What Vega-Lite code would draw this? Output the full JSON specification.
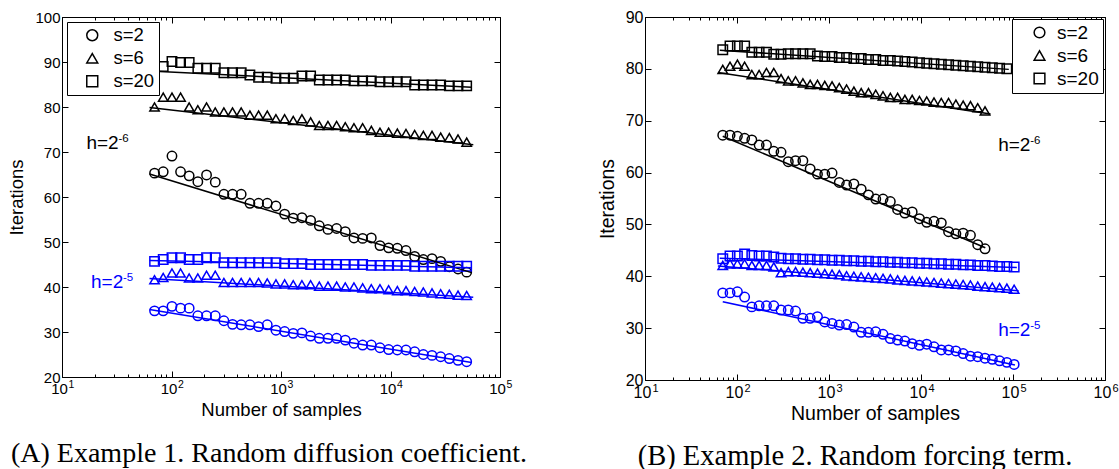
{
"$schema": "https://vega.github.io/schema/vega-lite/v6.json",
"padding": {"left": 7, "top": 8, "right": 0, "bottom": 0},
"background": "white",
"config": {
  "font": "Liberation Sans",
  "view": {"stroke": "black", "strokeWidth": 1},
  "axis": {"domain": false, "grid": false, "tickColor": "black", "labelColor": "black", "titleColor": "black", "titleFontWeight": "normal", "labelFont": "Liberation Sans", "titleFont": "Liberation Sans", "labelFlush": false, "labelOverlap": false, "labelBound": false, "tickWidth": 1},
  "title": {"font": "Liberation Serif", "fontWeight": "normal", "color": "black", "fontSize": 28},
  "legend": {"labelFont": "Liberation Sans", "labelColor": "black"}
},
"datasets": {
"pts": [
{"p":"A","h":"h6","s":"s=2","n":70,"v":65.3},{"p":"A","h":"h6","s":"s=2","n":84,"v":65.6},{"p":"A","h":"h6","s":"s=2","n":101,"v":69.1},{"p":"A","h":"h6","s":"s=2","n":121,"v":65.6},{"p":"A","h":"h6","s":"s=2","n":145,"v":64.7},{"p":"A","h":"h6","s":"s=2","n":174,"v":63.4},{"p":"A","h":"h6","s":"s=2","n":209,"v":64.9},{"p":"A","h":"h6","s":"s=2","n":251,"v":63.3},{"p":"A","h":"h6","s":"s=2","n":301,"v":60.6},{"p":"A","h":"h6","s":"s=2","n":361,"v":60.6},{"p":"A","h":"h6","s":"s=2","n":433,"v":60.6},{"p":"A","h":"h6","s":"s=2","n":520,"v":58.6},{"p":"A","h":"h6","s":"s=2","n":624,"v":58.6},{"p":"A","h":"h6","s":"s=2","n":749,"v":58.6},{"p":"A","h":"h6","s":"s=2","n":899,"v":58.0},{"p":"A","h":"h6","s":"s=2","n":1079,"v":56.2},{"p":"A","h":"h6","s":"s=2","n":1294,"v":55.3},{"p":"A","h":"h6","s":"s=2","n":1553,"v":55.4},{"p":"A","h":"h6","s":"s=2","n":1864,"v":54.8},{"p":"A","h":"h6","s":"s=2","n":2237,"v":53.6},{"p":"A","h":"h6","s":"s=2","n":2684,"v":52.8},{"p":"A","h":"h6","s":"s=2","n":3221,"v":53.0},{"p":"A","h":"h6","s":"s=2","n":3865,"v":52.3},{"p":"A","h":"h6","s":"s=2","n":4638,"v":50.9},{"p":"A","h":"h6","s":"s=2","n":5566,"v":50.8},{"p":"A","h":"h6","s":"s=2","n":6679,"v":50.9},{"p":"A","h":"h6","s":"s=2","n":8015,"v":49.2},{"p":"A","h":"h6","s":"s=2","n":9618,"v":48.7},{"p":"A","h":"h6","s":"s=2","n":11541,"v":48.6},{"p":"A","h":"h6","s":"s=2","n":13850,"v":48.1},{"p":"A","h":"h6","s":"s=2","n":16620,"v":46.8},{"p":"A","h":"h6","s":"s=2","n":19944,"v":46.1},{"p":"A","h":"h6","s":"s=2","n":23932,"v":46.3},{"p":"A","h":"h6","s":"s=2","n":28719,"v":45.7},{"p":"A","h":"h6","s":"s=2","n":34462,"v":44.5},{"p":"A","h":"h6","s":"s=2","n":41355,"v":44.0},{"p":"A","h":"h6","s":"s=2","n":49626,"v":43.3},
{"p":"A","h":"h6","s":"s=6","n":70,"v":80.0},{"p":"A","h":"h6","s":"s=6","n":84,"v":82.2},{"p":"A","h":"h6","s":"s=6","n":101,"v":82.2},{"p":"A","h":"h6","s":"s=6","n":121,"v":82.2},{"p":"A","h":"h6","s":"s=6","n":145,"v":80.0},{"p":"A","h":"h6","s":"s=6","n":174,"v":79.4},{"p":"A","h":"h6","s":"s=6","n":209,"v":80.0},{"p":"A","h":"h6","s":"s=6","n":251,"v":78.9},{"p":"A","h":"h6","s":"s=6","n":301,"v":78.9},{"p":"A","h":"h6","s":"s=6","n":361,"v":78.9},{"p":"A","h":"h6","s":"s=6","n":433,"v":78.9},{"p":"A","h":"h6","s":"s=6","n":520,"v":78.2},{"p":"A","h":"h6","s":"s=6","n":624,"v":78.2},{"p":"A","h":"h6","s":"s=6","n":749,"v":78.2},{"p":"A","h":"h6","s":"s=6","n":899,"v":77.4},{"p":"A","h":"h6","s":"s=6","n":1079,"v":77.4},{"p":"A","h":"h6","s":"s=6","n":1294,"v":77.0},{"p":"A","h":"h6","s":"s=6","n":1553,"v":77.4},{"p":"A","h":"h6","s":"s=6","n":1864,"v":76.7},{"p":"A","h":"h6","s":"s=6","n":2237,"v":75.9},{"p":"A","h":"h6","s":"s=6","n":2684,"v":75.9},{"p":"A","h":"h6","s":"s=6","n":3221,"v":75.9},{"p":"A","h":"h6","s":"s=6","n":3865,"v":75.6},{"p":"A","h":"h6","s":"s=6","n":4638,"v":75.4},{"p":"A","h":"h6","s":"s=6","n":5566,"v":75.4},{"p":"A","h":"h6","s":"s=6","n":6679,"v":74.8},{"p":"A","h":"h6","s":"s=6","n":8015,"v":74.4},{"p":"A","h":"h6","s":"s=6","n":9618,"v":74.4},{"p":"A","h":"h6","s":"s=6","n":11541,"v":74.2},{"p":"A","h":"h6","s":"s=6","n":13850,"v":74.1},{"p":"A","h":"h6","s":"s=6","n":16620,"v":73.9},{"p":"A","h":"h6","s":"s=6","n":19944,"v":73.7},{"p":"A","h":"h6","s":"s=6","n":23932,"v":73.7},{"p":"A","h":"h6","s":"s=6","n":28719,"v":73.3},{"p":"A","h":"h6","s":"s=6","n":34462,"v":73.2},{"p":"A","h":"h6","s":"s=6","n":41355,"v":72.9},{"p":"A","h":"h6","s":"s=6","n":49626,"v":72.2},
{"p":"A","h":"h6","s":"s=20","n":70,"v":87.1},{"p":"A","h":"h6","s":"s=20","n":84,"v":89.0},{"p":"A","h":"h6","s":"s=20","n":101,"v":90.1},{"p":"A","h":"h6","s":"s=20","n":121,"v":89.9},{"p":"A","h":"h6","s":"s=20","n":145,"v":89.9},{"p":"A","h":"h6","s":"s=20","n":174,"v":88.6},{"p":"A","h":"h6","s":"s=20","n":209,"v":88.6},{"p":"A","h":"h6","s":"s=20","n":251,"v":88.6},{"p":"A","h":"h6","s":"s=20","n":301,"v":87.6},{"p":"A","h":"h6","s":"s=20","n":361,"v":87.6},{"p":"A","h":"h6","s":"s=20","n":433,"v":87.6},{"p":"A","h":"h6","s":"s=20","n":520,"v":87.1},{"p":"A","h":"h6","s":"s=20","n":624,"v":86.6},{"p":"A","h":"h6","s":"s=20","n":749,"v":86.6},{"p":"A","h":"h6","s":"s=20","n":899,"v":86.4},{"p":"A","h":"h6","s":"s=20","n":1079,"v":86.4},{"p":"A","h":"h6","s":"s=20","n":1294,"v":86.4},{"p":"A","h":"h6","s":"s=20","n":1553,"v":86.9},{"p":"A","h":"h6","s":"s=20","n":1864,"v":86.9},{"p":"A","h":"h6","s":"s=20","n":2237,"v":86.0},{"p":"A","h":"h6","s":"s=20","n":2684,"v":86.0},{"p":"A","h":"h6","s":"s=20","n":3221,"v":86.0},{"p":"A","h":"h6","s":"s=20","n":3865,"v":86.0},{"p":"A","h":"h6","s":"s=20","n":4638,"v":85.8},{"p":"A","h":"h6","s":"s=20","n":5566,"v":85.8},{"p":"A","h":"h6","s":"s=20","n":6679,"v":85.8},{"p":"A","h":"h6","s":"s=20","n":8015,"v":85.6},{"p":"A","h":"h6","s":"s=20","n":9618,"v":85.6},{"p":"A","h":"h6","s":"s=20","n":11541,"v":85.6},{"p":"A","h":"h6","s":"s=20","n":13850,"v":85.6},{"p":"A","h":"h6","s":"s=20","n":16620,"v":84.9},{"p":"A","h":"h6","s":"s=20","n":19944,"v":84.9},{"p":"A","h":"h6","s":"s=20","n":23932,"v":84.9},{"p":"A","h":"h6","s":"s=20","n":28719,"v":84.9},{"p":"A","h":"h6","s":"s=20","n":34462,"v":84.7},{"p":"A","h":"h6","s":"s=20","n":41355,"v":84.7},{"p":"A","h":"h6","s":"s=20","n":49626,"v":84.7},
{"p":"A","h":"h5","s":"s=20","n":70,"v":45.7},{"p":"A","h":"h5","s":"s=20","n":84,"v":46.1},{"p":"A","h":"h5","s":"s=20","n":101,"v":46.5},{"p":"A","h":"h5","s":"s=20","n":121,"v":46.5},{"p":"A","h":"h5","s":"s=20","n":145,"v":46.1},{"p":"A","h":"h5","s":"s=20","n":174,"v":46.1},{"p":"A","h":"h5","s":"s=20","n":209,"v":46.5},{"p":"A","h":"h5","s":"s=20","n":251,"v":46.5},{"p":"A","h":"h5","s":"s=20","n":301,"v":45.4},{"p":"A","h":"h5","s":"s=20","n":361,"v":45.4},{"p":"A","h":"h5","s":"s=20","n":433,"v":45.4},{"p":"A","h":"h5","s":"s=20","n":520,"v":45.4},{"p":"A","h":"h5","s":"s=20","n":624,"v":45.4},{"p":"A","h":"h5","s":"s=20","n":749,"v":45.4},{"p":"A","h":"h5","s":"s=20","n":899,"v":45.4},{"p":"A","h":"h5","s":"s=20","n":1079,"v":45.2},{"p":"A","h":"h5","s":"s=20","n":1294,"v":45.2},{"p":"A","h":"h5","s":"s=20","n":1553,"v":45.2},{"p":"A","h":"h5","s":"s=20","n":1864,"v":45.0},{"p":"A","h":"h5","s":"s=20","n":2237,"v":45.0},{"p":"A","h":"h5","s":"s=20","n":2684,"v":45.0},{"p":"A","h":"h5","s":"s=20","n":3221,"v":45.0},{"p":"A","h":"h5","s":"s=20","n":3865,"v":45.0},{"p":"A","h":"h5","s":"s=20","n":4638,"v":45.0},{"p":"A","h":"h5","s":"s=20","n":5566,"v":45.0},{"p":"A","h":"h5","s":"s=20","n":6679,"v":44.8},{"p":"A","h":"h5","s":"s=20","n":8015,"v":44.8},{"p":"A","h":"h5","s":"s=20","n":9618,"v":44.8},{"p":"A","h":"h5","s":"s=20","n":11541,"v":44.8},{"p":"A","h":"h5","s":"s=20","n":13850,"v":44.8},{"p":"A","h":"h5","s":"s=20","n":16620,"v":44.6},{"p":"A","h":"h5","s":"s=20","n":19944,"v":44.6},{"p":"A","h":"h5","s":"s=20","n":23932,"v":44.6},{"p":"A","h":"h5","s":"s=20","n":28719,"v":44.6},{"p":"A","h":"h5","s":"s=20","n":34462,"v":44.6},{"p":"A","h":"h5","s":"s=20","n":41355,"v":44.6},{"p":"A","h":"h5","s":"s=20","n":49626,"v":44.6},
{"p":"A","h":"h5","s":"s=6","n":70,"v":41.6},{"p":"A","h":"h5","s":"s=6","n":84,"v":42.1},{"p":"A","h":"h5","s":"s=6","n":101,"v":43.1},{"p":"A","h":"h5","s":"s=6","n":121,"v":43.1},{"p":"A","h":"h5","s":"s=6","n":145,"v":42.0},{"p":"A","h":"h5","s":"s=6","n":174,"v":42.0},{"p":"A","h":"h5","s":"s=6","n":209,"v":42.6},{"p":"A","h":"h5","s":"s=6","n":251,"v":42.6},{"p":"A","h":"h5","s":"s=6","n":301,"v":41.0},{"p":"A","h":"h5","s":"s=6","n":361,"v":41.0},{"p":"A","h":"h5","s":"s=6","n":433,"v":41.0},{"p":"A","h":"h5","s":"s=6","n":520,"v":41.0},{"p":"A","h":"h5","s":"s=6","n":624,"v":41.0},{"p":"A","h":"h5","s":"s=6","n":749,"v":40.9},{"p":"A","h":"h5","s":"s=6","n":899,"v":40.7},{"p":"A","h":"h5","s":"s=6","n":1079,"v":40.7},{"p":"A","h":"h5","s":"s=6","n":1294,"v":40.5},{"p":"A","h":"h5","s":"s=6","n":1553,"v":40.5},{"p":"A","h":"h5","s":"s=6","n":1864,"v":40.5},{"p":"A","h":"h5","s":"s=6","n":2237,"v":40.2},{"p":"A","h":"h5","s":"s=6","n":2684,"v":40.2},{"p":"A","h":"h5","s":"s=6","n":3221,"v":40.2},{"p":"A","h":"h5","s":"s=6","n":3865,"v":40.0},{"p":"A","h":"h5","s":"s=6","n":4638,"v":40.0},{"p":"A","h":"h5","s":"s=6","n":5566,"v":39.8},{"p":"A","h":"h5","s":"s=6","n":6679,"v":39.6},{"p":"A","h":"h5","s":"s=6","n":8015,"v":39.6},{"p":"A","h":"h5","s":"s=6","n":9618,"v":39.4},{"p":"A","h":"h5","s":"s=6","n":11541,"v":39.2},{"p":"A","h":"h5","s":"s=6","n":13850,"v":39.2},{"p":"A","h":"h5","s":"s=6","n":16620,"v":39.0},{"p":"A","h":"h5","s":"s=6","n":19944,"v":38.9},{"p":"A","h":"h5","s":"s=6","n":23932,"v":38.7},{"p":"A","h":"h5","s":"s=6","n":28719,"v":38.5},{"p":"A","h":"h5","s":"s=6","n":34462,"v":38.4},{"p":"A","h":"h5","s":"s=6","n":41355,"v":38.2},{"p":"A","h":"h5","s":"s=6","n":49626,"v":38.1},
{"p":"A","h":"h5","s":"s=2","n":70,"v":34.7},{"p":"A","h":"h5","s":"s=2","n":84,"v":34.7},{"p":"A","h":"h5","s":"s=2","n":101,"v":35.7},{"p":"A","h":"h5","s":"s=2","n":121,"v":35.3},{"p":"A","h":"h5","s":"s=2","n":145,"v":35.3},{"p":"A","h":"h5","s":"s=2","n":174,"v":33.6},{"p":"A","h":"h5","s":"s=2","n":209,"v":33.6},{"p":"A","h":"h5","s":"s=2","n":251,"v":33.6},{"p":"A","h":"h5","s":"s=2","n":301,"v":32.5},{"p":"A","h":"h5","s":"s=2","n":361,"v":31.7},{"p":"A","h":"h5","s":"s=2","n":433,"v":31.6},{"p":"A","h":"h5","s":"s=2","n":520,"v":31.6},{"p":"A","h":"h5","s":"s=2","n":624,"v":31.2},{"p":"A","h":"h5","s":"s=2","n":749,"v":31.6},{"p":"A","h":"h5","s":"s=2","n":899,"v":30.4},{"p":"A","h":"h5","s":"s=2","n":1079,"v":30.1},{"p":"A","h":"h5","s":"s=2","n":1294,"v":29.7},{"p":"A","h":"h5","s":"s=2","n":1553,"v":29.8},{"p":"A","h":"h5","s":"s=2","n":1864,"v":29.1},{"p":"A","h":"h5","s":"s=2","n":2237,"v":28.6},{"p":"A","h":"h5","s":"s=2","n":2684,"v":28.6},{"p":"A","h":"h5","s":"s=2","n":3221,"v":28.6},{"p":"A","h":"h5","s":"s=2","n":3865,"v":28.2},{"p":"A","h":"h5","s":"s=2","n":4638,"v":27.5},{"p":"A","h":"h5","s":"s=2","n":5566,"v":27.1},{"p":"A","h":"h5","s":"s=2","n":6679,"v":27.1},{"p":"A","h":"h5","s":"s=2","n":8015,"v":26.5},{"p":"A","h":"h5","s":"s=2","n":9618,"v":26.1},{"p":"A","h":"h5","s":"s=2","n":11541,"v":26.0},{"p":"A","h":"h5","s":"s=2","n":13850,"v":26.0},{"p":"A","h":"h5","s":"s=2","n":16620,"v":25.6},{"p":"A","h":"h5","s":"s=2","n":19944,"v":25.0},{"p":"A","h":"h5","s":"s=2","n":23932,"v":24.8},{"p":"A","h":"h5","s":"s=2","n":28719,"v":24.5},{"p":"A","h":"h5","s":"s=2","n":34462,"v":24.1},{"p":"A","h":"h5","s":"s=2","n":41355,"v":23.7},{"p":"A","h":"h5","s":"s=2","n":49626,"v":23.4},
{"p":"B","h":"h6","s":"s=20","n":70,"v":83.7},{"p":"B","h":"h6","s":"s=20","n":84,"v":84.4},{"p":"B","h":"h6","s":"s=20","n":101,"v":84.4},{"p":"B","h":"h6","s":"s=20","n":121,"v":84.4},{"p":"B","h":"h6","s":"s=20","n":145,"v":83.2},{"p":"B","h":"h6","s":"s=20","n":174,"v":83.2},{"p":"B","h":"h6","s":"s=20","n":209,"v":83.2},{"p":"B","h":"h6","s":"s=20","n":251,"v":82.8},{"p":"B","h":"h6","s":"s=20","n":301,"v":82.8},{"p":"B","h":"h6","s":"s=20","n":361,"v":82.9},{"p":"B","h":"h6","s":"s=20","n":433,"v":82.9},{"p":"B","h":"h6","s":"s=20","n":520,"v":82.9},{"p":"B","h":"h6","s":"s=20","n":624,"v":82.9},{"p":"B","h":"h6","s":"s=20","n":749,"v":82.5},{"p":"B","h":"h6","s":"s=20","n":899,"v":82.4},{"p":"B","h":"h6","s":"s=20","n":1079,"v":82.4},{"p":"B","h":"h6","s":"s=20","n":1294,"v":82.2},{"p":"B","h":"h6","s":"s=20","n":1553,"v":82.2},{"p":"B","h":"h6","s":"s=20","n":1864,"v":82.0},{"p":"B","h":"h6","s":"s=20","n":2237,"v":82.0},{"p":"B","h":"h6","s":"s=20","n":2684,"v":81.8},{"p":"B","h":"h6","s":"s=20","n":3221,"v":81.8},{"p":"B","h":"h6","s":"s=20","n":3865,"v":81.6},{"p":"B","h":"h6","s":"s=20","n":4638,"v":81.6},{"p":"B","h":"h6","s":"s=20","n":5566,"v":81.5},{"p":"B","h":"h6","s":"s=20","n":6679,"v":81.4},{"p":"B","h":"h6","s":"s=20","n":8015,"v":81.3},{"p":"B","h":"h6","s":"s=20","n":9618,"v":81.2},{"p":"B","h":"h6","s":"s=20","n":11541,"v":81.1},{"p":"B","h":"h6","s":"s=20","n":13850,"v":81.0},{"p":"B","h":"h6","s":"s=20","n":16620,"v":80.9},{"p":"B","h":"h6","s":"s=20","n":19944,"v":80.8},{"p":"B","h":"h6","s":"s=20","n":23932,"v":80.7},{"p":"B","h":"h6","s":"s=20","n":28719,"v":80.6},{"p":"B","h":"h6","s":"s=20","n":34462,"v":80.5},{"p":"B","h":"h6","s":"s=20","n":41355,"v":80.4},{"p":"B","h":"h6","s":"s=20","n":49626,"v":80.3},{"p":"B","h":"h6","s":"s=20","n":59551,"v":80.2},{"p":"B","h":"h6","s":"s=20","n":71461,"v":80.1},{"p":"B","h":"h6","s":"s=20","n":85753,"v":80.0},
{"p":"B","h":"h6","s":"s=6","n":70,"v":79.9},{"p":"B","h":"h6","s":"s=6","n":84,"v":80.5},{"p":"B","h":"h6","s":"s=6","n":101,"v":80.9},{"p":"B","h":"h6","s":"s=6","n":121,"v":80.5},{"p":"B","h":"h6","s":"s=6","n":145,"v":78.9},{"p":"B","h":"h6","s":"s=6","n":174,"v":78.9},{"p":"B","h":"h6","s":"s=6","n":209,"v":79.3},{"p":"B","h":"h6","s":"s=6","n":251,"v":79.3},{"p":"B","h":"h6","s":"s=6","n":301,"v":78.1},{"p":"B","h":"h6","s":"s=6","n":361,"v":77.7},{"p":"B","h":"h6","s":"s=6","n":433,"v":77.7},{"p":"B","h":"h6","s":"s=6","n":520,"v":77.3},{"p":"B","h":"h6","s":"s=6","n":624,"v":77.0},{"p":"B","h":"h6","s":"s=6","n":749,"v":77.0},{"p":"B","h":"h6","s":"s=6","n":899,"v":76.8},{"p":"B","h":"h6","s":"s=6","n":1079,"v":76.7},{"p":"B","h":"h6","s":"s=6","n":1294,"v":76.4},{"p":"B","h":"h6","s":"s=6","n":1553,"v":76.1},{"p":"B","h":"h6","s":"s=6","n":1864,"v":75.7},{"p":"B","h":"h6","s":"s=6","n":2237,"v":75.4},{"p":"B","h":"h6","s":"s=6","n":2684,"v":75.4},{"p":"B","h":"h6","s":"s=6","n":3221,"v":75.1},{"p":"B","h":"h6","s":"s=6","n":3865,"v":74.8},{"p":"B","h":"h6","s":"s=6","n":4638,"v":74.5},{"p":"B","h":"h6","s":"s=6","n":5566,"v":74.5},{"p":"B","h":"h6","s":"s=6","n":6679,"v":74.1},{"p":"B","h":"h6","s":"s=6","n":8015,"v":74.1},{"p":"B","h":"h6","s":"s=6","n":9618,"v":73.9},{"p":"B","h":"h6","s":"s=6","n":11541,"v":73.8},{"p":"B","h":"h6","s":"s=6","n":13850,"v":73.6},{"p":"B","h":"h6","s":"s=6","n":16620,"v":73.5},{"p":"B","h":"h6","s":"s=6","n":19944,"v":73.5},{"p":"B","h":"h6","s":"s=6","n":23932,"v":73.2},{"p":"B","h":"h6","s":"s=6","n":28719,"v":73.0},{"p":"B","h":"h6","s":"s=6","n":34462,"v":72.9},{"p":"B","h":"h6","s":"s=6","n":41355,"v":72.5},{"p":"B","h":"h6","s":"s=6","n":49626,"v":71.9},
{"p":"B","h":"h6","s":"s=2","n":70,"v":67.2},{"p":"B","h":"h6","s":"s=2","n":84,"v":67.2},{"p":"B","h":"h6","s":"s=2","n":101,"v":67.0},{"p":"B","h":"h6","s":"s=2","n":121,"v":66.6},{"p":"B","h":"h6","s":"s=2","n":145,"v":66.3},{"p":"B","h":"h6","s":"s=2","n":174,"v":65.3},{"p":"B","h":"h6","s":"s=2","n":209,"v":65.3},{"p":"B","h":"h6","s":"s=2","n":251,"v":64.1},{"p":"B","h":"h6","s":"s=2","n":301,"v":63.9},{"p":"B","h":"h6","s":"s=2","n":361,"v":62.1},{"p":"B","h":"h6","s":"s=2","n":433,"v":62.3},{"p":"B","h":"h6","s":"s=2","n":520,"v":62.3},{"p":"B","h":"h6","s":"s=2","n":624,"v":60.7},{"p":"B","h":"h6","s":"s=2","n":749,"v":59.7},{"p":"B","h":"h6","s":"s=2","n":899,"v":59.7},{"p":"B","h":"h6","s":"s=2","n":1079,"v":59.9},{"p":"B","h":"h6","s":"s=2","n":1294,"v":58.1},{"p":"B","h":"h6","s":"s=2","n":1553,"v":57.6},{"p":"B","h":"h6","s":"s=2","n":1864,"v":57.8},{"p":"B","h":"h6","s":"s=2","n":2237,"v":56.8},{"p":"B","h":"h6","s":"s=2","n":2684,"v":55.7},{"p":"B","h":"h6","s":"s=2","n":3221,"v":54.9},{"p":"B","h":"h6","s":"s=2","n":3865,"v":54.9},{"p":"B","h":"h6","s":"s=2","n":4638,"v":54.4},{"p":"B","h":"h6","s":"s=2","n":5566,"v":52.9},{"p":"B","h":"h6","s":"s=2","n":6679,"v":52.2},{"p":"B","h":"h6","s":"s=2","n":8015,"v":52.4},{"p":"B","h":"h6","s":"s=2","n":9618,"v":51.1},{"p":"B","h":"h6","s":"s=2","n":11541,"v":50.4},{"p":"B","h":"h6","s":"s=2","n":13850,"v":50.6},{"p":"B","h":"h6","s":"s=2","n":16620,"v":50.3},{"p":"B","h":"h6","s":"s=2","n":19944,"v":48.6},{"p":"B","h":"h6","s":"s=2","n":23932,"v":48.2},{"p":"B","h":"h6","s":"s=2","n":28719,"v":48.3},{"p":"B","h":"h6","s":"s=2","n":34462,"v":47.9},{"p":"B","h":"h6","s":"s=2","n":41355,"v":46.1},{"p":"B","h":"h6","s":"s=2","n":49626,"v":45.3},
{"p":"B","h":"h5","s":"s=20","n":70,"v":43.4},{"p":"B","h":"h5","s":"s=20","n":84,"v":43.9},{"p":"B","h":"h5","s":"s=20","n":101,"v":43.9},{"p":"B","h":"h5","s":"s=20","n":121,"v":44.3},{"p":"B","h":"h5","s":"s=20","n":145,"v":44.0},{"p":"B","h":"h5","s":"s=20","n":174,"v":43.9},{"p":"B","h":"h5","s":"s=20","n":209,"v":43.9},{"p":"B","h":"h5","s":"s=20","n":251,"v":43.7},{"p":"B","h":"h5","s":"s=20","n":301,"v":43.5},{"p":"B","h":"h5","s":"s=20","n":361,"v":43.4},{"p":"B","h":"h5","s":"s=20","n":433,"v":43.4},{"p":"B","h":"h5","s":"s=20","n":520,"v":43.3},{"p":"B","h":"h5","s":"s=20","n":624,"v":43.3},{"p":"B","h":"h5","s":"s=20","n":749,"v":43.2},{"p":"B","h":"h5","s":"s=20","n":899,"v":43.2},{"p":"B","h":"h5","s":"s=20","n":1079,"v":43.1},{"p":"B","h":"h5","s":"s=20","n":1294,"v":43.1},{"p":"B","h":"h5","s":"s=20","n":1553,"v":43.0},{"p":"B","h":"h5","s":"s=20","n":1864,"v":43.0},{"p":"B","h":"h5","s":"s=20","n":2237,"v":42.9},{"p":"B","h":"h5","s":"s=20","n":2684,"v":42.9},{"p":"B","h":"h5","s":"s=20","n":3221,"v":42.8},{"p":"B","h":"h5","s":"s=20","n":3865,"v":42.8},{"p":"B","h":"h5","s":"s=20","n":4638,"v":42.7},{"p":"B","h":"h5","s":"s=20","n":5566,"v":42.7},{"p":"B","h":"h5","s":"s=20","n":6679,"v":42.6},{"p":"B","h":"h5","s":"s=20","n":8015,"v":42.6},{"p":"B","h":"h5","s":"s=20","n":9618,"v":42.5},{"p":"B","h":"h5","s":"s=20","n":11541,"v":42.5},{"p":"B","h":"h5","s":"s=20","n":13850,"v":42.4},{"p":"B","h":"h5","s":"s=20","n":16620,"v":42.4},{"p":"B","h":"h5","s":"s=20","n":19944,"v":42.3},{"p":"B","h":"h5","s":"s=20","n":23932,"v":42.3},{"p":"B","h":"h5","s":"s=20","n":28719,"v":42.2},{"p":"B","h":"h5","s":"s=20","n":34462,"v":42.2},{"p":"B","h":"h5","s":"s=20","n":41355,"v":42.1},{"p":"B","h":"h5","s":"s=20","n":49626,"v":42.1},{"p":"B","h":"h5","s":"s=20","n":59551,"v":42.0},{"p":"B","h":"h5","s":"s=20","n":71461,"v":41.9},{"p":"B","h":"h5","s":"s=20","n":85753,"v":41.9},{"p":"B","h":"h5","s":"s=20","n":102904,"v":41.8},
{"p":"B","h":"h5","s":"s=6","n":70,"v":42.1},{"p":"B","h":"h5","s":"s=6","n":84,"v":42.4},{"p":"B","h":"h5","s":"s=6","n":101,"v":42.4},{"p":"B","h":"h5","s":"s=6","n":121,"v":42.4},{"p":"B","h":"h5","s":"s=6","n":145,"v":42.1},{"p":"B","h":"h5","s":"s=6","n":174,"v":42.1},{"p":"B","h":"h5","s":"s=6","n":209,"v":42.1},{"p":"B","h":"h5","s":"s=6","n":251,"v":41.8},{"p":"B","h":"h5","s":"s=6","n":301,"v":40.7},{"p":"B","h":"h5","s":"s=6","n":361,"v":40.9},{"p":"B","h":"h5","s":"s=6","n":433,"v":40.9},{"p":"B","h":"h5","s":"s=6","n":520,"v":40.8},{"p":"B","h":"h5","s":"s=6","n":624,"v":40.7},{"p":"B","h":"h5","s":"s=6","n":749,"v":40.6},{"p":"B","h":"h5","s":"s=6","n":899,"v":40.5},{"p":"B","h":"h5","s":"s=6","n":1079,"v":40.4},{"p":"B","h":"h5","s":"s=6","n":1294,"v":40.3},{"p":"B","h":"h5","s":"s=6","n":1553,"v":40.1},{"p":"B","h":"h5","s":"s=6","n":1864,"v":40.0},{"p":"B","h":"h5","s":"s=6","n":2237,"v":39.9},{"p":"B","h":"h5","s":"s=6","n":2684,"v":39.8},{"p":"B","h":"h5","s":"s=6","n":3221,"v":39.7},{"p":"B","h":"h5","s":"s=6","n":3865,"v":39.6},{"p":"B","h":"h5","s":"s=6","n":4638,"v":39.5},{"p":"B","h":"h5","s":"s=6","n":5566,"v":39.3},{"p":"B","h":"h5","s":"s=6","n":6679,"v":39.2},{"p":"B","h":"h5","s":"s=6","n":8015,"v":39.1},{"p":"B","h":"h5","s":"s=6","n":9618,"v":39.0},{"p":"B","h":"h5","s":"s=6","n":11541,"v":38.9},{"p":"B","h":"h5","s":"s=6","n":13850,"v":38.8},{"p":"B","h":"h5","s":"s=6","n":16620,"v":38.7},{"p":"B","h":"h5","s":"s=6","n":19944,"v":38.6},{"p":"B","h":"h5","s":"s=6","n":23932,"v":38.5},{"p":"B","h":"h5","s":"s=6","n":28719,"v":38.4},{"p":"B","h":"h5","s":"s=6","n":34462,"v":38.3},{"p":"B","h":"h5","s":"s=6","n":41355,"v":38.1},{"p":"B","h":"h5","s":"s=6","n":49626,"v":38.0},{"p":"B","h":"h5","s":"s=6","n":59551,"v":37.9},{"p":"B","h":"h5","s":"s=6","n":71461,"v":37.8},{"p":"B","h":"h5","s":"s=6","n":85753,"v":37.7},{"p":"B","h":"h5","s":"s=6","n":102904,"v":37.5},
{"p":"B","h":"h5","s":"s=2","n":70,"v":36.8},{"p":"B","h":"h5","s":"s=2","n":84,"v":36.8},{"p":"B","h":"h5","s":"s=2","n":101,"v":37.0},{"p":"B","h":"h5","s":"s=2","n":121,"v":36.0},{"p":"B","h":"h5","s":"s=2","n":145,"v":34.1},{"p":"B","h":"h5","s":"s=2","n":174,"v":34.3},{"p":"B","h":"h5","s":"s=2","n":209,"v":34.3},{"p":"B","h":"h5","s":"s=2","n":251,"v":34.3},{"p":"B","h":"h5","s":"s=2","n":301,"v":33.5},{"p":"B","h":"h5","s":"s=2","n":361,"v":33.5},{"p":"B","h":"h5","s":"s=2","n":433,"v":33.3},{"p":"B","h":"h5","s":"s=2","n":520,"v":31.9},{"p":"B","h":"h5","s":"s=2","n":624,"v":31.9},{"p":"B","h":"h5","s":"s=2","n":749,"v":32.2},{"p":"B","h":"h5","s":"s=2","n":899,"v":31.2},{"p":"B","h":"h5","s":"s=2","n":1079,"v":30.9},{"p":"B","h":"h5","s":"s=2","n":1294,"v":30.6},{"p":"B","h":"h5","s":"s=2","n":1553,"v":30.7},{"p":"B","h":"h5","s":"s=2","n":1864,"v":30.2},{"p":"B","h":"h5","s":"s=2","n":2237,"v":29.2},{"p":"B","h":"h5","s":"s=2","n":2684,"v":29.2},{"p":"B","h":"h5","s":"s=2","n":3221,"v":29.3},{"p":"B","h":"h5","s":"s=2","n":3865,"v":28.8},{"p":"B","h":"h5","s":"s=2","n":4638,"v":28.0},{"p":"B","h":"h5","s":"s=2","n":5566,"v":27.7},{"p":"B","h":"h5","s":"s=2","n":6679,"v":27.5},{"p":"B","h":"h5","s":"s=2","n":8015,"v":27.0},{"p":"B","h":"h5","s":"s=2","n":9618,"v":26.7},{"p":"B","h":"h5","s":"s=2","n":11541,"v":26.9},{"p":"B","h":"h5","s":"s=2","n":13850,"v":26.4},{"p":"B","h":"h5","s":"s=2","n":16620,"v":25.8},{"p":"B","h":"h5","s":"s=2","n":19944,"v":25.8},{"p":"B","h":"h5","s":"s=2","n":23932,"v":25.6},{"p":"B","h":"h5","s":"s=2","n":28719,"v":25.1},{"p":"B","h":"h5","s":"s=2","n":34462,"v":24.6},{"p":"B","h":"h5","s":"s=2","n":41355,"v":24.5},{"p":"B","h":"h5","s":"s=2","n":49626,"v":24.2},{"p":"B","h":"h5","s":"s=2","n":59551,"v":24.0},{"p":"B","h":"h5","s":"s=2","n":71461,"v":23.7},{"p":"B","h":"h5","s":"s=2","n":85753,"v":23.4},{"p":"B","h":"h5","s":"s=2","n":102904,"v":23.0}
],
"fit": [
{"p":"A","h":"h6","s":"s=2","n":63,"v":65.1},{"p":"A","h":"h6","s":"s=2","n":55000,"v":43.2},
{"p":"A","h":"h6","s":"s=6","n":63,"v":79.9},{"p":"A","h":"h6","s":"s=6","n":57000,"v":71.6},
{"p":"A","h":"h6","s":"s=20","n":63,"v":88.0},{"p":"A","h":"h6","s":"s=20","n":55000,"v":84.4},
{"p":"A","h":"h5","s":"s=20","n":63,"v":45.9},{"p":"A","h":"h5","s":"s=20","n":55000,"v":44.3},
{"p":"A","h":"h5","s":"s=6","n":63,"v":41.9},{"p":"A","h":"h5","s":"s=6","n":57000,"v":37.7},
{"p":"A","h":"h5","s":"s=2","n":63,"v":35.0},{"p":"A","h":"h5","s":"s=2","n":55000,"v":23.2},
{"p":"B","h":"h6","s":"s=20","n":65,"v":83.6},{"p":"B","h":"h6","s":"s=20","n":90000,"v":79.9},
{"p":"B","h":"h6","s":"s=6","n":62,"v":79.3},{"p":"B","h":"h6","s":"s=6","n":57000,"v":71.3},
{"p":"B","h":"h6","s":"s=2","n":70,"v":67.0},{"p":"B","h":"h6","s":"s=2","n":50000,"v":45.5},
{"p":"B","h":"h5","s":"s=20","n":65,"v":43.5},{"p":"B","h":"h5","s":"s=20","n":110000,"v":41.7},
{"p":"B","h":"h5","s":"s=6","n":62,"v":42.0},{"p":"B","h":"h5","s":"s=6","n":115000,"v":37.2},
{"p":"B","h":"h5","s":"s=2","n":70,"v":35.1},{"p":"B","h":"h5","s":"s=2","n":105000,"v":22.9}
],
"ann": [
{"p":"A","h":"h6","n":16.7,"v":70.7,"t":"h=2","sup":"-6"},
{"p":"A","h":"h5","n":18.4,"v":39.8,"t":"h=2","sup":"-5"},
{"p":"B","h":"h6","n":69000,"v":64.2,"t":"h=2","sup":"-6"},
{"p":"B","h":"h5","n":69000,"v":28.5,"t":"h=2","sup":"-5"}
]
},
"spacing": 145,
"bounds": "flush",
"resolve": {"scale": {"x": "independent", "y": "independent", "color": "independent", "shape": "independent"}, "legend": {"shape": "independent"}},
"hconcat": [
{
 "width": 438, "height": 360,
 "title": {"text": "(A) Example 1. Random diffusion coefficient.", "orient": "bottom", "anchor": "middle", "offset": 21, "dx": -12, "baseline": "top", "fontSize": 28},
 "resolve": {"axis": {"x": "independent", "y": "independent"}},
 "layer": [
  {
   "data": {"name": "pts"},
   "transform": [{"filter": "datum.p === 'A'"}],
   "mark": {"type": "point", "filled": false, "strokeWidth": 1.5, "size": 88, "opacity": 1},
   "encoding": {
    "x": {"field": "n", "type": "quantitative", "scale": {"type": "log", "domain": [10, 100000]},
          "axis": {"orient": "bottom", "values": [10, 100, 1000, 10000, 100000], "labelExpr": "'10'", "tickSize": -6, "labelPadding": 10, "labelOffset": -3, "labelFontSize": 15, "title": "Number of samples", "titleFontSize": 18.5, "titlePadding": 4}},
    "y": {"field": "v", "type": "quantitative", "scale": {"domain": [20, 100], "zero": false, "nice": false},
          "axis": {"orient": "left", "values": [20, 30, 40, 50, 60, 70, 80, 90, 100], "tickSize": -6, "labelPadding": 8, "labelFontSize": 15, "title": "Iterations", "titleFontSize": 18.5, "titlePadding": 8}},
    "shape": {"field": "s", "type": "nominal", "scale": {"domain": ["s=2", "s=6", "s=20"], "range": ["circle", "triangle-up", "square"]},
              "legend": {"orient": "top-left", "offset": 5, "title": null, "strokeColor": "black", "fillColor": "white", "padding": 4, "labelFontSize": 18.5, "symbolSize": 120, "symbolStrokeWidth": 1.5, "symbolStrokeColor": "black", "symbolFillColor": "transparent", "symbolOffset": 12, "labelOffset": 12, "rowPadding": 4, "cornerRadius": 0,
                         "encode": {"symbols": {"update": {"stroke": {"value": "black"}}}}}},
    "color": {"field": "h", "type": "nominal", "scale": {"domain": ["h6", "h5"], "range": ["#000000", "#0000ff"]}, "legend": null}
   }
  },
  {
   "data": {"name": "fit"},
   "transform": [{"filter": "datum.p === 'A'"}],
   "mark": {"type": "line", "strokeWidth": 1.5},
   "encoding": {
    "x": {"field": "n", "type": "quantitative", "scale": {"type": "log", "domain": [10, 100000]},
          "axis": {"orient": "top", "values": [10, 100, 1000, 10000, 100000], "tickSize": -6, "labels": false, "title": null}},
    "y": {"field": "v", "type": "quantitative", "scale": {"domain": [20, 100], "zero": false, "nice": false},
          "axis": {"orient": "right", "values": [20, 30, 40, 50, 60, 70, 80, 90, 100], "tickSize": -6, "labels": false, "title": null}},
    "detail": {"field": "s", "type": "nominal"},
    "color": {"field": "h", "type": "nominal", "scale": {"domain": ["h6", "h5"], "range": ["#000000", "#0000ff"]}, "legend": null}
   }
  },
  {
   "data": {"name": "ann"},
   "transform": [{"filter": "datum.p === 'A'"}],
   "mark": {"type": "text", "align": "left", "baseline": "alphabetic", "fontSize": 19, "font": "Liberation Sans"},
   "encoding": {
    "x": {"field": "n", "type": "quantitative", "scale": {"type": "log", "domain": [10, 100000]},
          "axis": {"orient": "bottom", "values": [10,20,30,40,50,60,70,80,90,100,200,300,400,500,600,700,800,900,1000,2000,3000,4000,5000,6000,7000,8000,9000,10000,20000,30000,40000,50000,60000,70000,80000,90000,100000],
                   "labelExpr": "datum.value===10?'1':datum.value===100?'2':datum.value===1000?'3':datum.value===10000?'4':datum.value===100000?'5':''", "tickSize": -3, "labelPadding": 5, "labelOffset": 9, "labelFontSize": 10.5, "title": null}},
    "y": {"field": "v", "type": "quantitative", "scale": {"domain": [20, 100], "zero": false, "nice": false}, "axis": null},
    "text": {"field": "t"},
    "color": {"field": "h", "type": "nominal", "scale": {"domain": ["h6", "h5"], "range": ["#000000", "#0000ff"]}, "legend": null}
   }
  },
  {
   "data": {"name": "ann"},
   "transform": [{"filter": "datum.p === 'A'"}],
   "mark": {"type": "text", "align": "left", "baseline": "alphabetic", "fontSize": 11.5, "font": "Liberation Sans", "dx": 32, "dy": -7},
   "encoding": {
    "x": {"field": "n", "type": "quantitative", "scale": {"type": "log", "domain": [10, 100000]},
          "axis": {"orient": "top", "values": [10,20,30,40,50,60,70,80,90,100,200,300,400,500,600,700,800,900,1000,2000,3000,4000,5000,6000,7000,8000,9000,10000,20000,30000,40000,50000,60000,70000,80000,90000,100000], "tickSize": -3, "labels": false, "title": null}},
    "y": {"field": "v", "type": "quantitative", "scale": {"domain": [20, 100], "zero": false, "nice": false}, "axis": null},
    "text": {"field": "sup"},
    "color": {"field": "h", "type": "nominal", "scale": {"domain": ["h6", "h5"], "range": ["#000000", "#0000ff"]}, "legend": null}
   }
  }
 ]
},
{
 "width": 460, "height": 363,
 "title": {"text": "(B) Example 2. Random forcing term.", "orient": "bottom", "anchor": "middle", "offset": 19, "dx": -20, "baseline": "top", "fontSize": 28.5},
 "resolve": {"axis": {"x": "independent", "y": "independent"}},
 "layer": [
  {
   "data": {"name": "pts"},
   "transform": [{"filter": "datum.p === 'B'"}],
   "mark": {"type": "point", "filled": false, "strokeWidth": 1.5, "size": 90, "opacity": 1},
   "encoding": {
    "x": {"field": "n", "type": "quantitative", "scale": {"type": "log", "domain": [10, 1000000]},
          "axis": {"orient": "bottom", "values": [10, 100, 1000, 10000, 100000, 1000000], "labelExpr": "'10'", "tickSize": -6, "labelPadding": 10, "labelOffset": -3, "labelFontSize": 16, "title": "Number of samples", "titleFontSize": 19.5, "titlePadding": 4}},
    "y": {"field": "v", "type": "quantitative", "scale": {"domain": [20, 90], "zero": false, "nice": false},
          "axis": {"orient": "left", "values": [20, 30, 40, 50, 60, 70, 80, 90], "tickSize": -6, "labelPadding": 8, "labelFontSize": 16, "title": "Iterations", "titleFontSize": 19.5, "titlePadding": 8}},
    "shape": {"field": "s", "type": "nominal", "scale": {"domain": ["s=2", "s=6", "s=20"], "range": ["circle", "triangle-up", "square"]},
              "legend": {"orient": "top-right", "offset": 2, "title": null, "strokeColor": "black", "fillColor": "white", "padding": 4, "labelFontSize": 19, "symbolSize": 115, "symbolStrokeWidth": 1.5, "symbolStrokeColor": "black", "symbolFillColor": "transparent", "symbolOffset": 14, "labelOffset": 8, "rowPadding": 3, "cornerRadius": 0,
                         "encode": {"symbols": {"update": {"stroke": {"value": "black"}}}}}},
    "color": {"field": "h", "type": "nominal", "scale": {"domain": ["h6", "h5"], "range": ["#000000", "#0000ff"]}, "legend": null}
   }
  },
  {
   "data": {"name": "fit"},
   "transform": [{"filter": "datum.p === 'B'"}],
   "mark": {"type": "line", "strokeWidth": 1.5},
   "encoding": {
    "x": {"field": "n", "type": "quantitative", "scale": {"type": "log", "domain": [10, 1000000]},
          "axis": {"orient": "top", "values": [10, 100, 1000, 10000, 100000, 1000000], "tickSize": -6, "labels": false, "title": null}},
    "y": {"field": "v", "type": "quantitative", "scale": {"domain": [20, 90], "zero": false, "nice": false},
          "axis": {"orient": "right", "values": [20, 30, 40, 50, 60, 70, 80, 90], "tickSize": -6, "labels": false, "title": null}},
    "detail": {"field": "s", "type": "nominal"},
    "color": {"field": "h", "type": "nominal", "scale": {"domain": ["h6", "h5"], "range": ["#000000", "#0000ff"]}, "legend": null}
   }
  },
  {
   "data": {"name": "ann"},
   "transform": [{"filter": "datum.p === 'B'"}],
   "mark": {"type": "text", "align": "left", "baseline": "alphabetic", "fontSize": 19, "font": "Liberation Sans"},
   "encoding": {
    "x": {"field": "n", "type": "quantitative", "scale": {"type": "log", "domain": [10, 1000000]},
          "axis": {"orient": "bottom", "values": [10,20,30,40,50,60,70,80,90,100,200,300,400,500,600,700,800,900,1000,2000,3000,4000,5000,6000,7000,8000,9000,10000,20000,30000,40000,50000,60000,70000,80000,90000,100000,200000,300000,400000,500000,600000,700000,800000,900000,1000000],
                   "labelExpr": "datum.value===10?'1':datum.value===100?'2':datum.value===1000?'3':datum.value===10000?'4':datum.value===100000?'5':datum.value===1000000?'6':''", "tickSize": -3, "labelPadding": 5, "labelOffset": 10, "labelFontSize": 11, "title": null}},
    "y": {"field": "v", "type": "quantitative", "scale": {"domain": [20, 90], "zero": false, "nice": false}, "axis": null},
    "text": {"field": "t"},
    "color": {"field": "h", "type": "nominal", "scale": {"domain": ["h6", "h5"], "range": ["#000000", "#0000ff"]}, "legend": null}
   }
  },
  {
   "data": {"name": "ann"},
   "transform": [{"filter": "datum.p === 'B'"}],
   "mark": {"type": "text", "align": "left", "baseline": "alphabetic", "fontSize": 11.5, "font": "Liberation Sans", "dx": 32, "dy": -7},
   "encoding": {
    "x": {"field": "n", "type": "quantitative", "scale": {"type": "log", "domain": [10, 1000000]},
          "axis": {"orient": "top", "values": [10,20,30,40,50,60,70,80,90,100,200,300,400,500,600,700,800,900,1000,2000,3000,4000,5000,6000,7000,8000,9000,10000,20000,30000,40000,50000,60000,70000,80000,90000,100000,200000,300000,400000,500000,600000,700000,800000,900000,1000000], "tickSize": -3, "labels": false, "title": null}},
    "y": {"field": "v", "type": "quantitative", "scale": {"domain": [20, 90], "zero": false, "nice": false}, "axis": null},
    "text": {"field": "sup"},
    "color": {"field": "h", "type": "nominal", "scale": {"domain": ["h6", "h5"], "range": ["#000000", "#0000ff"]}, "legend": null}
   }
  }
 ]
}
]
}
